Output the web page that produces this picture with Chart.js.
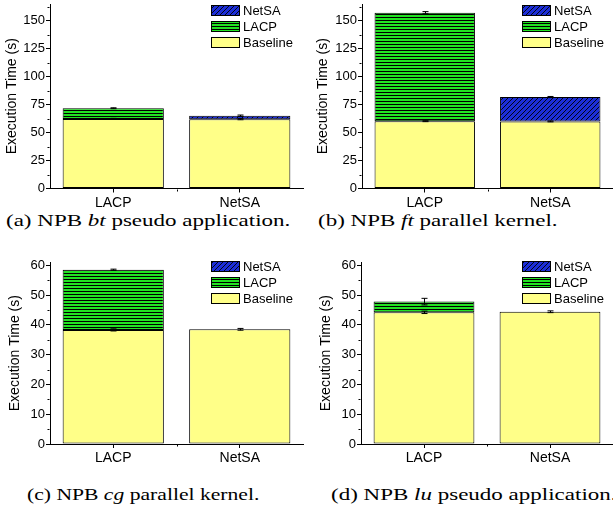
<!DOCTYPE html>
<html><head><meta charset="utf-8">
<script src="https://cdn.jsdelivr.net/npm/chart.js@4.4.0/dist/chart.umd.min.js"></script>
<style>
html,body{margin:0;padding:0;background:#fff;}
#wrap{position:relative;width:613px;height:507px;overflow:hidden;background:#fff;}
.pane{position:absolute;}
.cap{position:absolute;font-family:"Liberation Serif","Times New Roman",serif;font-size:23px;line-height:23px;white-space:nowrap;transform:scaleY(0.7);transform-origin:0 0;color:#000;}
</style></head><body>
<div id="wrap">
  <div class="pane" style="left:0;top:0;"><canvas id="cA" width="306" height="212"></canvas></div>
  <div class="pane" style="left:311px;top:0;"><canvas id="cB" width="302" height="212"></canvas></div>
  <div class="pane" style="left:0;top:250px;"><canvas id="cC" width="306" height="218"></canvas></div>
  <div class="pane" style="left:311px;top:250px;"><canvas id="cD" width="302" height="218"></canvas></div>
  <div class="cap" style="left:6px;top:212.5px;">(a) NPB <i>bt</i> pseudo application.</div>
  <div class="cap" style="left:318px;top:212.5px;">(b) NPB <i>ft</i> parallel kernel.</div>
  <div class="cap" style="left:27px;top:486.5px;transform:scale(0.94,0.7);">(c) NPB <i>cg</i> parallel kernel.</div>
  <div class="cap" style="left:331px;top:486.5px;">(d) NPB <i>lu</i> pseudo application.</div>
</div>
<script>
// ---- data ----
const categories = ['LACP', 'NetSA'];
const seriesNames = ['Baseline', 'LACP', 'NetSA'];
const yTitle = 'Execution Time (s)';

// (a) NPB bt
const btBaseline = [62.2, 62.0];
const btLACP = [9.6, null];
const btNetSA = [null, 3.1];
const btBaselineErr = [0.5, 0.5];
const btLACPErr = [0.4, null];
const btNetSAErr = [null, 0.6];

// (b) NPB ft
const ftBaseline = [60.2, 60.0];
const ftLACP = [97.0, null];
const ftNetSA = [null, 21.8];
const ftBaselineErr = [0.4, 0.4];
const ftLACPErr = [1.0, null];
const ftNetSAErr = [null, 0.5];

// (c) NPB cg
const cgBaseline = [38.3, 38.5];
const cgLACP = [20.2, null];
const cgNetSA = [null, null];
const cgBaselineErr = [0.35, 0.3];
const cgLACPErr = [0.2, null];
const cgNetSAErr = [null, null];

// (d) NPB lu
const luBaseline = [44.2, 44.4];
const luLACP = [3.6, null];
const luNetSA = [null, null];
const luBaselineErr = [0.4, 0.3];
const luLACPErr = [1.1, null];
const luNetSAErr = [null, null];

const yTicksTop = [0, 25, 50, 75, 100, 125, 150];
const yTicksBottom = [0, 10, 20, 30, 40, 50, 60];
const yMaxTop = 165;
const yMaxBottom = 61;

// ---- styles ----
Chart.defaults.font.family = '"Liberation Sans", Arial, sans-serif';
Chart.defaults.color = '#000';

function makeStripes() {
  const c = document.createElement('canvas'); c.width = 3; c.height = 3;
  const g = c.getContext('2d');
  g.fillStyle = '#22e322'; g.fillRect(0, 0, 3, 3);
  g.fillStyle = '#000'; g.fillRect(0, 2, 3, 1);
  return g.createPattern(c, 'repeat');
}
function makeHatch() {
  const s = 5, c = document.createElement('canvas'); c.width = s; c.height = s;
  const g = c.getContext('2d');
  g.fillStyle = '#1c2ed8'; g.fillRect(0, 0, s, s);
  g.strokeStyle = '#000'; g.lineWidth = 0.9;
  g.beginPath();
  g.moveTo(-1, s + 1); g.lineTo(s + 1, -1);
  g.moveTo(-1, 1); g.lineTo(1, -1);
  g.moveTo(s - 1, s + 1); g.lineTo(s + 1, s - 1);
  g.stroke();
  return g.createPattern(c, 'repeat');
}
const fills = ['#ffff88', makeStripes(), makeHatch()];

const extras = {
  id: 'extras',
  afterDraw(chart, args, opts) {
    const ctx = chart.ctx, xs = chart.scales.x, ys = chart.scales.y;
    ctx.save();
    ctx.strokeStyle = '#000'; ctx.lineWidth = 1;
    // error bars
    const n = chart.data.labels.length;
    for (let i = 0; i < n; i++) {
      let cum = 0;
      chart.data.datasets.forEach((ds, di) => {
        const v = ds.data[i];
        if (v == null) return;
        cum += v;
        const e = opts.errors[di][i];
        if (e == null) return;
        const cx = Math.round(xs.getPixelForValue(i)) + 0.5;
        const y1 = ys.getPixelForValue(cum - e), y2 = ys.getPixelForValue(cum + e);
        ctx.beginPath();
        ctx.moveTo(cx, y1); ctx.lineTo(cx, y2);
        ctx.moveTo(cx - 3, y1); ctx.lineTo(cx + 3, y1);
        ctx.moveTo(cx - 3, y2); ctx.lineTo(cx + 3, y2);
        ctx.stroke();
      });
    }
    // minor y ticks
    const t = opts.majorTicks;
    const step = t[1] - t[0];
    const ax = Math.round(ys.right) - 0.5;
    ctx.beginPath();
    for (let v = t[0] + step / 2; v <= ys.max; v += step) {
      const py = Math.round(ys.getPixelForValue(v)) + 0.5;
      ctx.moveTo(ax - 2, py); ctx.lineTo(ax, py);
    }
    // minor x ticks at category boundaries
    const ay = Math.round(xs.top) + 0.5;
    for (let i = 0; i < n - 1; i++) {
      const px = Math.round((xs.getPixelForValue(i) + xs.getPixelForValue(i + 1)) / 2) + 0.5;
      ctx.moveTo(px, ay); ctx.lineTo(px, ay + 2);
    }
    ctx.stroke();
    // legend
    const lg = opts.legend;
    const order = [2, 1, 0];
    ctx.font = '13px "Liberation Sans", Arial, sans-serif';
    ctx.textBaseline = 'middle'; ctx.textAlign = 'left';
    order.forEach((di, k) => {
      const ds = chart.data.datasets[di];
      const y = lg.y + k * lg.gap;
      ctx.fillStyle = ds.backgroundColor;
      ctx.fillRect(lg.x, y, lg.w, lg.h);
      ctx.strokeRect(lg.x + 0.5, y + 0.5, lg.w - 1, lg.h - 1);
      ctx.fillStyle = '#000';
      ctx.fillText(ds.label, lg.x + lg.w + 3, y + lg.h / 2 + 0.5);
    });
    ctx.restore();
  }
};

function build(id, base, lacp, netsa, errs, yMax, ticks, g) {
  const values = [base, lacp, netsa];
  new Chart(document.getElementById(id), {
    type: 'bar',
    data: {
      labels: categories,
      datasets: seriesNames.map((name, k) => ({
        label: name,
        data: values[k],
        backgroundColor: fills[k],
        borderColor: '#000',
        borderWidth: 1,
        borderSkipped: false,
        categoryPercentage: 1.0,
        barPercentage: 0.8
      }))
    },
    options: {
      responsive: false,
      animation: false,
      devicePixelRatio: 1,
      layout: { padding: { top: g.T, right: g.W - g.R, left: 0, bottom: 0 } },
      plugins: {
        legend: { display: false },
        tooltip: { enabled: false },
        extras: { errors: errs, majorTicks: ticks, legend: g.legend }
      },
      scales: {
        x: {
          stacked: true,
          offset: true,
          grid: { display: true, drawOnChartArea: false, offset: false, tickLength: 4, color: '#000', lineWidth: 1 },
          border: { display: true, color: '#000', width: 1 },
          ticks: { font: { size: 14 }, padding: 2, color: '#000' },
          afterFit(s) { s.height = g.H - g.B; s.paddingLeft = 0; s.paddingRight = 0; }
        },
        y: {
          stacked: true,
          min: 0,
          max: yMax,
          afterBuildTicks(s) { s.ticks = ticks.map(v => ({ value: v })); },
          grid: { display: true, drawOnChartArea: false, tickLength: 4, color: '#000', lineWidth: 1 },
          border: { display: true, color: '#000', width: 1 },
          ticks: { font: { size: 13 }, padding: 1, color: '#000' },
          title: { display: true, text: yTitle, font: { size: 14 }, color: '#000', padding: { top: g.titlePad, bottom: 0 } },
          afterFit(s) { s.width = g.L; s.paddingTop = 0; s.paddingBottom = 0; }
        }
      }
    },
    plugins: [extras]
  });
}

build('cA', btBaseline, btLACP, btNetSA, [btBaselineErr, btLACPErr, btNetSAErr], yMaxTop, yTicksTop,
  { W: 306, H: 212, L: 50, R: 303, T: 4, B: 188.5, titlePad: 4, legend: { x: 211, y: 5, w: 29, h: 11, gap: 16 } });
build('cB', ftBaseline, ftLACP, ftNetSA, [ftBaselineErr, ftLACPErr, ftNetSAErr], yMaxTop, yTicksTop,
  { W: 302, H: 212, L: 51, R: 302, T: 4, B: 188.5, titlePad: 4, legend: { x: 211, y: 5, w: 29, h: 11, gap: 16 } });
build('cC', cgBaseline, cgLACP, cgNetSA, [cgBaselineErr, cgLACPErr, cgNetSAErr], yMaxBottom, yTicksBottom,
  { W: 306, H: 218, L: 50, R: 303, T: 12.3, B: 194, titlePad: 7, legend: { x: 211, y: 11, w: 29, h: 11, gap: 16 } });
build('cD', luBaseline, luLACP, luNetSA, [luBaselineErr, luLACPErr, luNetSAErr], yMaxBottom, yTicksBottom,
  { W: 302, H: 218, L: 50, R: 302, T: 12.3, B: 194, titlePad: 7, legend: { x: 211, y: 11, w: 29, h: 11, gap: 16 } });
</script>
</body></html>
